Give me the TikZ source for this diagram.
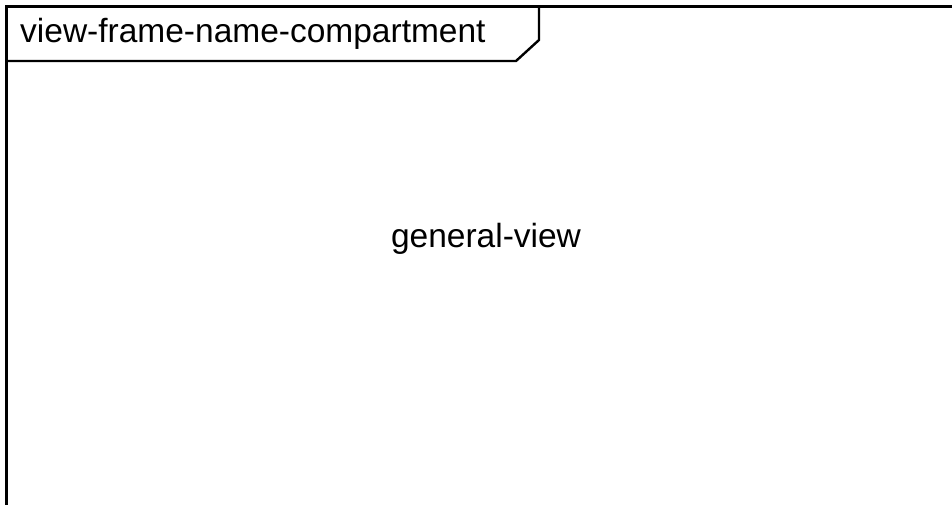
\documentclass[tikz,border=0pt]{standalone}
\usepackage{fontspec}
\setmainfont{Liberation Sans}
\usepackage{tikz}

\begin{document}
\begin{tikzpicture}[x=1pt, y=-1pt, line width=2.4pt,
    label/.style={inner sep=0pt, font=\fontsize{33.5}{40}\selectfont}]
    \useasboundingbox (0,0) rectangle (952,505);

    % frame
    \coordinate (fbl) at (6.5,505);
    \coordinate (ftl) at (6.5,6.5);
    \coordinate (ftr) at (952,6.5);
    \draw (fbl) -- (ftl) -- (ftr);

    % name compartment
    \coordinate (tbl) at (6.5,61);
    \coordinate (tb) at (516,61);
    \coordinate (tr) at (539,40);
    \coordinate (tt) at (539,6.5);
    \draw (tbl) -- (tb) -- (tr) -- (tt);
    \node[label, anchor=base west] (fname) at (19,43) {view-frame-name-compartment};

    % body
    \node[label, anchor=base] (body) at (486,247) {general-view};
\end{tikzpicture}
\end{document}
